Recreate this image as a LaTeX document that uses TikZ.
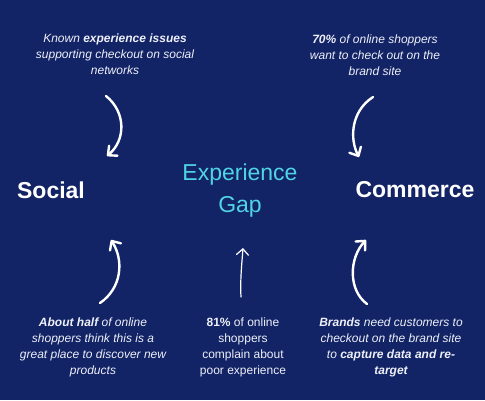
\documentclass[tikz,border=0pt]{standalone}
\usepackage{fontspec}
\setmainfont{Liberation Sans}
\usetikzlibrary{arrows.meta}
\definecolor{bgnavy}{RGB}{18,35,102}
\definecolor{gapteal}{RGB}{80,212,228}
\definecolor{notewhite}{RGB}{238,240,248}
\begin{document}
\begin{tikzpicture}[x=1pt,y=-1pt,
  note/.style={align=center,text=notewhite,inner sep=0pt,font=\fontsize{12}{16}\selectfont\itshape},
  plainnote/.style={align=center,text=notewhite,inner sep=0pt,font=\fontsize{12}{16}\selectfont},
  bigword/.style={text=white,inner sep=0pt,font=\fontsize{23}{28}\selectfont\bfseries},
  gapword/.style={align=center,text=gapteal,inner sep=0pt,font=\fontsize{23}{32}\selectfont},
  curvearrow/.style={draw=white,line width=2.4pt,line cap=round,line join=round,
    -{Straight Barb[length=7pt,width=13pt,line cap=round,line join=round]}},
  thinarrow/.style={draw=white,line width=1.2pt,line cap=round,
    -{Straight Barb[length=6pt,width=12pt,line cap=round]}}]
\fill[bgnavy] (0,0) rectangle (485,400);
\useasboundingbox (0,0) rectangle (485,400);

\node[note] (tl) at (115,54) {Known \textbf{experience issues}\\supporting checkout on social\\networks};
\node[note] (tr) at (375,55) {\textbf{70\%} of online shoppers\\want to check out on the\\brand site};
\node[bigword] (social) at (51,190) {Social};
\node[bigword] (commerce) at (415,190) {Commerce};
\node[gapword] (gap) at (240,191) {Experience\\Gap};
\node[note] (bl) at (93,347) {\textbf{About half} of online\\shoppers think this is a\\great place to discover new\\products};
\node[plainnote] (bm) at (243,347) {\textbf{81\%} of online\\shoppers\\complain about\\poor experience};
\node[note] (br) at (391,347) {\textbf{Brands} need customers to\\checkout on the brand site\\to \textbf{capture data and re-}\\\textbf{target}};

\coordinate (tls) at (106,96);
\coordinate (tle) at (107,156);
\coordinate (trs) at (373,97);
\coordinate (tre) at (359,157);
\coordinate (bls) at (100,303);
\coordinate (ble) at (111,240);
\coordinate (bms) at (241,297);
\coordinate (bme) at (243,248);
\coordinate (brs) at (367,304);
\coordinate (bre) at (366,240);

\draw[curvearrow] (tls) .. controls (126,112) and (126,140) .. (tle);
\draw[curvearrow] (trs) .. controls (350,112) and (350,140) .. (tre);
\draw[curvearrow] (bls) .. controls (122,288) and (124,260) .. (ble);
\draw[thinarrow] (bms) .. controls (240,280) and (242,262) .. (bme);
\draw[curvearrow] (brs) .. controls (348,290) and (349,258) .. (bre);
\end{tikzpicture}
\end{document}
